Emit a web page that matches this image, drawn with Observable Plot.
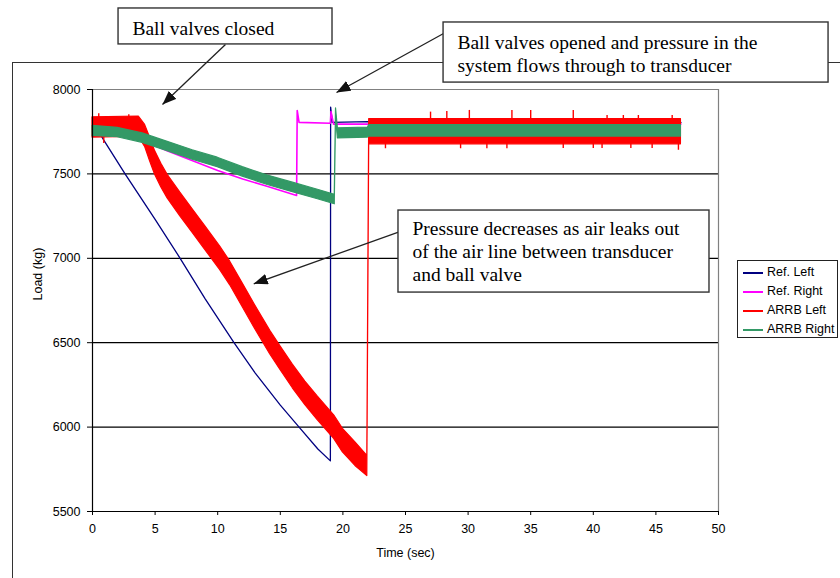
<!DOCTYPE html>
<html>
<head>
<meta charset="utf-8">
<script src="https://cdn.jsdelivr.net/npm/d3@7"></script>
<script src="https://cdn.jsdelivr.net/npm/@observablehq/plot@0.6"></script>
<style>
  html, body { margin: 0; padding: 0; background: white; }
  #wrap { position: relative; width: 840px; height: 578px; overflow: hidden; }
  #frame { position: absolute; left: 12px; top: 62px; width: 900px; height: 600px;
           border-left: 1.5px solid #333; border-top: 1.5px solid #333; }
  #chart { position: absolute; left: 0; top: 0; }
  #legend { position: absolute; left: 737px; top: 260px; width: 101px; height: 78px;
            border: 1px solid #222; background: white; box-sizing: border-box;
            font-family: "Liberation Sans", Arial, sans-serif; font-size: 12.5px; color: #000; }
  .item { position: absolute; left: 0; height: 19px; line-height: 19px; white-space: nowrap; }
  .swatch { position: absolute; left: 5px; top: 9px; width: 20px; height: 2px; }
  .lab { position: absolute; left: 29px; top: 0; }
</style>
</head>
<body>
<div id="wrap"><div id="frame"></div><div id="chart"></div><div id="legend"></div></div>
<script>
// ---------- data ----------
const xTicks = [0, 5, 10, 15, 20, 25, 30, 35, 40, 45, 50];
const yTicks = [5500, 6000, 6500, 7000, 7500, 8000];
const gridY = [6000, 6500, 7000, 7500];

const seriesNames = ["Ref. Left", "Ref. Right", "ARRB Left", "ARRB Right"];
const seriesColors = ["#000080", "#FF00FF", "#FF0000", "#339966"];

// Ref. Left (time s, load kg)
const refLeftT = [0, 0.5, 0.9, 2.6, 5, 7, 9, 11.3, 13, 15, 16.5, 18, 19, 19.02, 19.15, 22, 30, 40, 47];
const refLeftY = [7760, 7750, 7700, 7500, 7230, 7000, 6760, 6500, 6320, 6130, 6000, 5870, 5800, 7896, 7805, 7810, 7805, 7808, 7805];

// Ref. Right
const refRightT = [0, 2, 3.5, 4.6, 6, 8, 10, 12, 14, 16.3, 16.35, 16.5, 19, 19.05, 19.25, 47];
const refRightY = [7750, 7740, 7720, 7680, 7635, 7578, 7520, 7470, 7425, 7372, 7876, 7805, 7800, 7870, 7795, 7795];

// ARRB Left: centre of noisy trace and its half spread
const arrbLeftT = [0, 3.7, 4.2, 4.6, 5.0, 5.5, 6, 7, 8, 9, 10.2, 11, 12, 13, 14.2, 15, 16, 17, 18, 19.3, 20, 21, 21.95, 22.1, 47];
const arrbLeftMid = [7775, 7780, 7725, 7645, 7565, 7490, 7425, 7320, 7220, 7120, 7000, 6910, 6780, 6650, 6500, 6410, 6300, 6200, 6110, 6000, 5920, 5840, 5770, 7750, 7750];
const arrbLeftHalf = [60, 60, 65, 70, 70, 70, 70, 70, 70, 70, 70, 70, 70, 70, 70, 70, 70, 70, 70, 70, 70, 70, 60, 75, 75];
// ARRB Left: largest visible spikes
const arrbLeftSpikeT = [0.5, 0.9, 2.9, 23.4, 27.0, 28.3, 29.4, 30.1, 31.5, 33.1, 33.5, 35.0, 37.6, 38.4, 40.0, 40.7, 41.1, 42.4, 43.0, 43.6, 44.7, 46.3, 46.8];
const arrbLeftSpikeY = [7856, 7680, 7850, 7649, 7866, 7870, 7649, 7876, 7649, 7649, 7876, 7876, 7650, 7876, 7650, 7650, 7846, 7846, 7650, 7846, 7650, 7846, 7640];
const arrbLeftSpikeBase = [7775, 7775, 7775, 7750, 7750, 7750, 7750, 7750, 7750, 7750, 7750, 7750, 7750, 7750, 7750, 7750, 7750, 7750, 7750, 7750, 7750, 7750, 7750];

// ARRB Right
const arrbRightT = [0, 2, 4, 6, 8, 10, 12, 14, 16, 18, 19.35, 19.45, 19.6, 22, 22.1, 47];
const arrbRightMid = [7755, 7745, 7712, 7662, 7612, 7568, 7512, 7462, 7420, 7378, 7348, 7860, 7740, 7745, 7755, 7755];
const arrbRightHalf = [30, 28, 28, 28, 28, 28, 28, 28, 28, 28, 28, 28, 30, 30, 34, 34];

// annotations (in data units: seconds / kg)
const noteText = [
  ["Ball valves closed"],
  ["Ball valves opened and pressure in the", "system flows through to transducer"],
  ["Pressure decreases as air leaks out", "of the air line between transducer", "and ball valve"]
];
const noteBoxX = [[2.08, 19.17], [28.04, 58.79], [24.44, 49.28]];
const noteBoxY = [[8267, 8480], [8041, 8397], [6797, 7283]];
const noteTextX = [3.19, 29.15, 25.56];
const noteTextY = [[8361], [8278, 8142], [7177, 7040, 6904]];
const noteArrowFrom = [[10.62, 8267], [28.04, 8332], [24.44, 7155]];
const noteArrowTo = [[5.59, 7911], [19.49, 7982], [12.88, 6849]];

// ---------- build tables ----------
const refLeft = refLeftT.map((t, i) => ({t, y: refLeftY[i]}));
const refRight = refRightT.map((t, i) => ({t, y: refRightY[i]}));
const arrbLeft = arrbLeftT.map((t, i) => ({t, lo: arrbLeftMid[i] - arrbLeftHalf[i], hi: arrbLeftMid[i] + arrbLeftHalf[i]}));
const arrbLeftSpikes = arrbLeftSpikeT.map((t, i) => ({t, y: arrbLeftSpikeY[i], base: arrbLeftSpikeBase[i]}));
const arrbRight = arrbRightT.map((t, i) => ({t, lo: arrbRightMid[i] - arrbRightHalf[i], hi: arrbRightMid[i] + arrbRightHalf[i]}));

const boxes = noteBoxX.map((bx, i) => ({x1: bx[0], x2: bx[1], y1: noteBoxY[i][0], y2: noteBoxY[i][1]}));
const lines = noteText.flatMap((ls, i) => ls.map((s, j) => ({s, x: noteTextX[i], y: noteTextY[i][j]})));
const arrows = noteArrowFrom.map((f, i) => ({x1: f[0], y1: f[1], x2: noteArrowTo[i][0], y2: noteArrowTo[i][1]}));

const serif = "'Liberation Serif', 'Times New Roman', serif";

const plot = Plot.plot({
  width: 840, height: 578,
  marginLeft: 92, marginRight: 122, marginTop: 89, marginBottom: 67,
  x: {domain: [0, 50], label: null},
  y: {domain: [5500, 8000], label: null},
  style: {background: "transparent", fontFamily: "'Liberation Sans', Arial, sans-serif", fontSize: "12.5px", color: "black"},
  marks: [
    Plot.ruleY(gridY, {stroke: "black", strokeWidth: 1.2}),
    Plot.ruleY([8000], {stroke: "#808080", strokeWidth: 1.2}),
    Plot.ruleX([50], {stroke: "#808080", strokeWidth: 1.2}),
    Plot.line(refLeft, {x: "t", y: "y", stroke: seriesColors[0], strokeWidth: 1.3}),
    Plot.line(refRight, {x: "t", y: "y", stroke: seriesColors[1], strokeWidth: 1.6}),
    Plot.areaY(arrbLeft, {x: "t", y1: "lo", y2: "hi", fill: seriesColors[2], stroke: seriesColors[2], strokeWidth: 1.2}),
    Plot.ruleX(arrbLeftSpikes, {x: "t", y1: "base", y2: "y", stroke: seriesColors[2], strokeWidth: 1.4}),
    Plot.areaY(arrbRight, {x: "t", y1: "lo", y2: "hi", fill: seriesColors[3], stroke: seriesColors[3], strokeWidth: 1.2}),
    Plot.ruleX([0], {stroke: "black", strokeWidth: 1.2}),
    Plot.ruleY([5500], {stroke: "black", strokeWidth: 1.2}),
    Plot.axisX({ticks: xTicks, tickSize: 4, tickPadding: 9, tickFormat: d => String(d), label: null}),
    Plot.axisY({ticks: yTicks, tickSize: 5, tickPadding: 7, tickFormat: d => String(d), label: null}),
    Plot.text(["Load (kg)"], {text: d => d, frameAnchor: "left", rotate: -90, dx: -55}),
    Plot.text(["Time (sec)"], {text: d => d, frameAnchor: "bottom", dy: 45}),
    // annotations
    Plot.link(arrows, {x1: "x1", y1: "y1", x2: "x2", y2: "y2", stroke: "#222", strokeWidth: 1.3}),
    Plot.rect(boxes, {x1: "x1", x2: "x2", y1: "y1", y2: "y2", fill: "white", stroke: "#333", strokeWidth: 1.4}),
    Plot.text(lines, {x: "x", y: "y", text: "s", textAnchor: "start", fontFamily: serif, fontSize: 19.5, fill: "black"})
  ]
});

// filled arrowheads on the annotation links
const svg = d3.select(plot);
const defs = svg.insert("defs", ":first-child");
defs.append("marker").attr("id", "ahead").attr("markerUnits", "userSpaceOnUse")
  .attr("markerWidth", 16).attr("markerHeight", 12).attr("refX", 14).attr("refY", 5.5)
  .attr("orient", "auto")
  .append("path").attr("d", "M0,0L14,5.5L0,11Z").attr("fill", "#111");
svg.selectAll("g[aria-label='link'] path").attr("marker-end", "url(#ahead)");

document.getElementById("chart").appendChild(plot);

// legend
const leg = d3.select("#legend");
seriesNames.forEach((n, i) => {
  const it = leg.append("div").attr("class", "item").style("top", (2 + i * 19) + "px");
  it.append("div").attr("class", "swatch").style("background-color", seriesColors[i]);
  it.append("div").attr("class", "lab").text(n);
});
</script>
</body>
</html>
